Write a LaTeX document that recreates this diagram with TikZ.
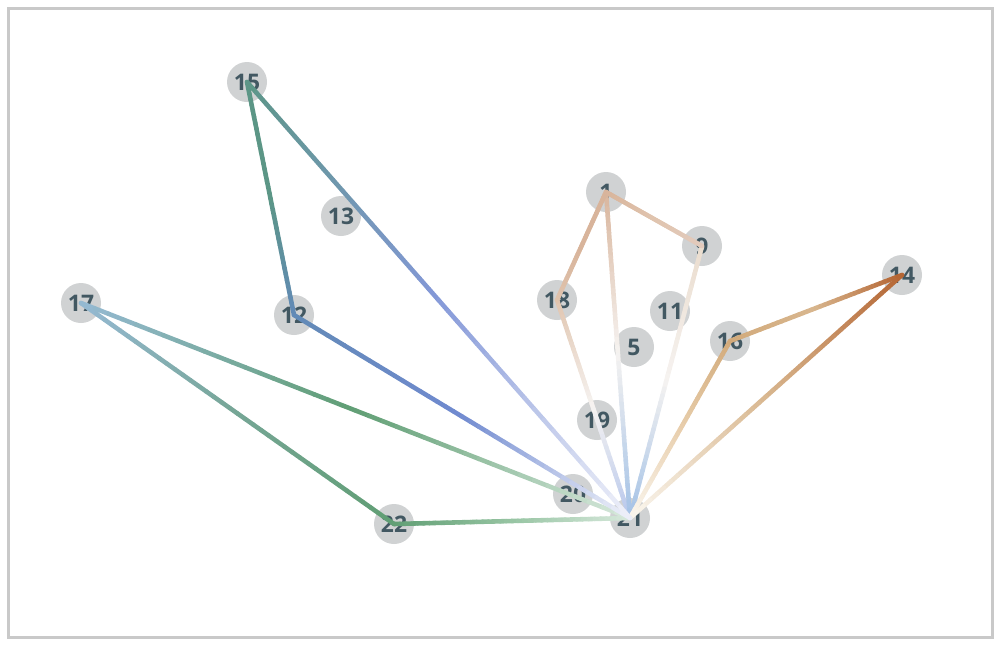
\documentclass[tikz,border=0pt]{standalone}
\usepackage{fontspec}
\setsansfont{Open Sans}
\usetikzlibrary{calc}

\definecolor{nodegray}{RGB}{208,210,211}
\definecolor{labelink}{RGB}{66,88,98}
\definecolor{framegray}{RGB}{201,201,201}
% edge colours
\definecolor{tealA}{RGB}{92,150,134}
\definecolor{steelA}{RGB}{98,138,182}
\definecolor{royalA}{RGB}{112,138,208}
\definecolor{lilacA}{RGB}{132,152,216}
\definecolor{paleA}{RGB}{238,240,249}
\definecolor{skyA}{RGB}{150,186,212}
\definecolor{greenA}{RGB}{96,158,116}
\definecolor{mossA}{RGB}{118,166,150}
\definecolor{mintA}{RGB}{214,232,219}
\definecolor{sageA}{RGB}{150,196,162}
\definecolor{tanA}{RGB}{216,180,155}
\definecolor{tanB}{RGB}{224,196,174}
\definecolor{tanC}{RGB}{226,202,188}
\definecolor{fogA}{RGB}{246,243,241}
\definecolor{iceA}{RGB}{164,194,230}
\definecolor{sandA}{RGB}{234,220,205}
\definecolor{iceB}{RGB}{184,200,236}
\definecolor{camelA}{RGB}{210,170,122}
\definecolor{rustA}{RGB}{180,100,50}
\definecolor{beigeA}{RGB}{216,182,142}
\definecolor{creamA}{RGB}{250,246,238}
\definecolor{wheatA}{RGB}{232,206,172}

\tikzset{
  vertex/.style={circle,fill=nodegray,minimum size=40*0.02cm,inner sep=0pt,
    text=labelink,font=\sffamily\bfseries\fontsize{13}{14}\selectfont},
  link/.style={line width=2.6pt,line cap=round}
}

% from, to, colour at from, colour half way, colour at to
\newcommand\gradlink[5]{%
  \foreach \k in {1,...,40}{%
    \pgfmathsetmacro\ta{(\k-1)/40}%
    \pgfmathsetmacro\tb{\k/40}%
    \pgfmathtruncatemacro\pa{max(0,100-5*(\k-0.5))}%
    \pgfmathtruncatemacro\pq{min(100,200-5*(\k-0.5))}%
    \draw[link,draw={#3!\pa!#4!\pq!#5}] ($(#1)!\ta!(#2)$) -- ($(#1)!\tb!(#2)$);
  }%
}

\begin{document}
\begin{tikzpicture}[x=0.02cm,y=-0.02cm]

\useasboundingbox (0,0) rectangle (996,650);

% Frame
\draw[framegray,line width=3*0.02cm] (8.5,8.5) rectangle (992.5,637.5);

% Nodes
\node[vertex] (n15) at (247,82) {15};
\node[vertex] (n13) at (341,216) {13};
\node[vertex] (n12) at (294,315) {12};
\node[vertex] (n17) at (81,303) {17};
\node[vertex] (n22) at (394,524) {22};
\node[vertex] (n20) at (573,494) {20};
\node[vertex] (n21) at (630,518) {21};
\node[vertex] (n19) at (597,420) {19};
\node[vertex] (n5) at (634,347) {5};
\node[vertex] (n18) at (557,300) {18};
\node[vertex] (n1) at (606,192) {1};
\node[vertex] (n9) at (702,246) {9};
\node[vertex] (n11) at (670,311) {11};
\node[vertex] (n16) at (730,341) {16};
\node[vertex] (n14) at (902,275) {14};

% Links
\gradlink{n18}{n21}{tanB}{fogA}{iceB}
\gradlink{n1}{n21}{tanA}{fogA}{iceA}
\gradlink{n9}{n21}{sandA}{fogA}{iceA}
\gradlink{n18}{n1}{tanB}{tanA}{tanA}
\gradlink{n1}{n9}{tanA}{tanB}{tanC}
\gradlink{n16}{n21}{camelA}{wheatA}{creamA}
\gradlink{n14}{n21}{rustA}{beigeA}{creamA}
\gradlink{n16}{n14}{camelA}{beigeA}{rustA}
\gradlink{n17}{n22}{skyA}{mossA}{greenA}
\gradlink{n22}{n21}{greenA}{sageA}{mintA}
\gradlink{n17}{n21}{skyA}{greenA}{mintA}
\gradlink{n15}{n12}{tealA}{tealA}{steelA}
\gradlink{n12}{n21}{steelA}{royalA}{paleA}
\gradlink{n15}{n21}{tealA}{lilacA}{paleA}

\end{tikzpicture}
\end{document}
